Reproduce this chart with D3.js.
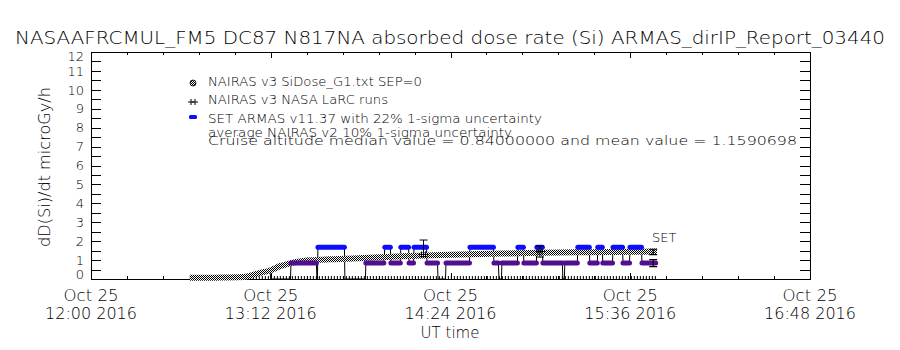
<!DOCTYPE html>
<html><head><meta charset="utf-8">
<script src="https://cdn.jsdelivr.net/npm/d3@7"></script>
<style>
body{margin:0;background:#fff}
svg{display:block}
text{font-family:"DejaVu Sans",sans-serif;font-weight:200;fill:#000}
</style>
</head><body><svg id="c" width="900" height="350"></svg>
<script>
// ---------- data (minutes after 2016-10-25 12:00 UT) ----------
const titleText = "NASAAFRCMUL_FM5 DC87 N817NA absorbed dose rate (Si) ARMAS_dirIP_Report_03440";
const yLabel = "dD(Si)/dt microGy/h";
const xLabel = "UT time";
const xTickMinutes = [0, 72, 144, 216, 288];
const xTickLabels = [["Oct 25","12:00 2016"],["Oct 25","13:12 2016"],["Oct 25","14:24 2016"],["Oct 25","15:36 2016"],["Oct 25","16:48 2016"]];
const yTickValues = [0,1,2,3,4,5,6,7,8,9,10,11,12];
const legendLabels = ["NAIRAS v3 SiDose_G1.txt SEP=0","NAIRAS v3 NASA LaRC runs","SET ARMAS v11.37 with 22% 1-sigma uncertainty","average NAIRAS v2 10% 1-sigma uncertainty","Cruise altitude median value = 0.84000000 and mean value = 1.1590698"];

// NAIRAS v3 SiDose (dense symbols)
const nairasT = [39.6, 50, 60.9, 64.5, 68, 71.7, 75.7, 79.7, 84.9, 90.5, 95.7, 111.7, 125, 139.8, 160, 179.8, 200, 226.7];
const nairasV = [0.06, 0.07, 0.1, 0.2, 0.33, 0.45, 0.68, 0.83, 0.95, 1.0, 1.04, 1.12, 1.2, 1.27, 1.33, 1.39, 1.42, 1.45];
// SEP contribution (=0)
const sepT = [39.6, 226.7];
const sepV = [0, 0];

// SET ARMAS runs: start, end, value
const armasStart = [71.7, 72.0, 80.1, 90.5, 90.9, 101.7, 110.1, 117.7, 120.1, 124.1, 127.4, 129.4, 134.6, 139.0, 142.2, 151.8, 161.4, 163.4, 164.6, 171.0, 173.4, 178.6, 181.0, 189.0, 189.8, 195.0, 199.8, 203.0, 205.0, 209.1, 213.1, 215.9, 220.7];
const armasEnd   = [71.7, 79.9, 90.3, 90.7, 101.5, 109.9, 117.3, 119.9, 123.9, 127.2, 129.2, 134.4, 138.8, 142.0, 151.6, 161.2, 163.2, 164.4, 170.8, 173.2, 178.4, 180.8, 188.8, 189.6, 194.8, 199.6, 202.8, 204.8, 208.9, 212.9, 215.7, 220.5, 226.2];
const armasV     = [0.45, 0, 0.84, 0, 1.68, 0, 0.84, 1.68, 0.84, 1.68, 0.84, 1.68, 0.84, 0, 0.84, 1.68, 0.84, 0, 0.84, 1.68, 0.84, 1.68, 0.84, 0, 0.84, 1.68, 0.84, 1.68, 0.84, 1.68, 0.84, 1.68, 0.84];

// NAIRAS v3 NASA LaRC runs with error bars
const larcT = [133.2, 179.8];
const larcV = [1.3, 1.45];
const larcLo = [1.18, 1.16];
const larcHi = [2.06, 1.74];

// summary values at end of flight
const summaryT = 225.2;
const nairasAvg = 1.43, nairasAvgErr = 0.10;
const armasMedian = 0.84, armasErr = 0.22;

// ---------- drawing ----------
const svg = d3.select("#c");
const L = 91, R = 810, T = 52, B = 279;
const x = d3.scaleLinear().domain([0, 288]).range([L, R]);
const y = d3.scaleLinear().domain([0, 12]).range([B, T]);
const BLUE = "#0c0cff", PURPLE = "#520e8e";

const defs = svg.append("defs");
const pat = defs.append("pattern").attr("id","chk").attr("patternUnits","userSpaceOnUse").attr("width",2).attr("height",2);
pat.append("rect").attr("width",2).attr("height",2).attr("fill","#fff");
pat.append("rect").attr("x",0).attr("y",0).attr("width",1).attr("height",1).attr("fill","#000");
pat.append("rect").attr("x",1).attr("y",1).attr("width",1).attr("height",1).attr("fill","#000");

// title
svg.append("text").attr("x",15).attr("y",44).attr("font-size",17)
  .attr("textLength",870).attr("lengthAdjust","spacingAndGlyphs").text(titleText);

// axes
const g = svg.append("g").attr("shape-rendering","crispEdges");
const yMinor = d3.range(0.5, 12, 1);
const yLabShift = v => v === 0 ? -5 : (v === 12 ? 4 : 0);
g.append("g").attr("transform",`translate(${L},0)`)
  .call(d3.axisLeft(y).tickValues(yTickValues).tickSize(-10).tickPadding(7).tickFormat(d3.format("d")))
  .call(s=>s.select(".domain").remove())
  .call(s=>s.selectAll("text").attr("font-size",13).attr("font-family","DejaVu Sans").attr("font-weight",200)
    .attr("fill","#000").attr("y",d=>yLabShift(d)));
g.append("g").attr("transform",`translate(${L},0)`)
  .call(d3.axisLeft(y).tickValues(yMinor).tickSize(-10).tickFormat(""))
  .call(s=>s.select(".domain").remove());
g.append("g").attr("transform",`translate(${R},0)`)
  .call(d3.axisRight(y).tickValues(yTickValues.concat(yMinor)).tickSize(-10).tickFormat(""))
  .call(s=>s.select(".domain").remove());
const xMinor = d3.range(14.4, 288, 14.4).filter(v=>Math.abs(v/72-Math.round(v/72))>0.01);
[[B, d3.axisBottom], [T, d3.axisTop]].forEach(([yy, ax])=>{
  g.append("g").attr("transform",`translate(0,${yy})`)
    .call(ax(x).tickValues(xTickMinutes).tickSize(-6).tickFormat(""))
    .call(s=>s.select(".domain").remove());
  g.append("g").attr("transform",`translate(0,${yy})`)
    .call(ax(x).tickValues(xMinor).tickSize(-3).tickFormat(""))
    .call(s=>s.select(".domain").remove());
});
g.selectAll(".tick line").attr("stroke","#000");
g.append("rect").attr("x",L+0.5).attr("y",T+0.5).attr("width",R-L).attr("height",B-T)
  .attr("fill","none").attr("stroke","#000");

// x tick labels
const xl = svg.append("g");
xTickMinutes.forEach((m,i)=>{
  xl.append("text").attr("x",x(m)).attr("y",301).attr("text-anchor","middle").attr("font-size",15)
    .attr("textLength",55).attr("lengthAdjust","spacingAndGlyphs").text(xTickLabels[i][0]);
  xl.append("text").attr("x",x(m)).attr("y",319).attr("text-anchor","middle").attr("font-size",15)
    .attr("textLength",92).attr("lengthAdjust","spacingAndGlyphs").text(xTickLabels[i][1]);
});
svg.append("text").attr("x",450).attr("y",338).attr("text-anchor","middle").attr("font-size",15).text(xLabel);
svg.append("text").attr("transform","translate(50,167) rotate(-90)").attr("text-anchor","middle")
  .attr("font-size",15).attr("textLength",160).attr("lengthAdjust","spacingAndGlyphs").text(yLabel);

// legend
const lg = svg.append("g");
const legY = [86, 104, 123, 137, 145];
const legLen = [214, 180, 334, 304, 589];
legendLabels.forEach((t,i)=>{
  lg.append("text").attr("x",208).attr("y",legY[i]).attr("font-size",13)
    .attr("textLength",legLen[i]).attr("lengthAdjust","spacingAndGlyphs").text(t);
});
// legend symbols
lg.append("circle").attr("cx",193).attr("cy",83).attr("r",3).attr("fill","url(#chk)").attr("stroke","#000").attr("stroke-width",0.8);
[[191,102],[195,102]].forEach(([cx,cy])=>{
  lg.append("path").attr("d",`M${cx-3},${cy}H${cx+3}M${cx},${cy-3}V${cy+3}`).attr("stroke","#000").attr("stroke-width",1);
});
lg.append("rect").attr("x",189).attr("y",115).attr("width",8).attr("height",4).attr("rx",1.5).attr("fill",BLUE);

const plot = svg.append("g");
// SEP=0 marks along zero
plot.append("path").attr("d", d3.line().x((d,i)=>x(sepT[i])).y(d=>y(d)-1.5)(sepV))
  .attr("stroke","#000").attr("stroke-width",3).attr("stroke-dasharray","1,2").attr("fill","none");

// ARMAS connecting line
const armasPts = [];
armasV.forEach((v,i)=>{ armasPts.push([armasStart[i],v]); armasPts.push([armasEnd[i],v]); });
plot.append("path").attr("d", d3.line().x(d=>x(d[0])).y(d=>y(d[1]))(armasPts))
  .attr("stroke","#000").attr("stroke-width",1).attr("fill","none");

// NAIRAS v3 dense symbols as a thick checkered band
plot.append("path").attr("d", d3.line().x((d,i)=>x(nairasT[i])).y(d=>y(d)).curve(d3.curveMonotoneX)(nairasV))
  .attr("stroke","url(#chk)").attr("stroke-width",6).attr("fill","none");

// ARMAS colored symbols (dose levels at or above the cruise median)
armasV.forEach((v,i)=>{
  if (v < 0.8) return;
  plot.append("line").attr("x1",x(armasStart[i])).attr("x2",x(armasEnd[i]))
    .attr("y1",y(v)).attr("y2",y(v)).attr("stroke", v > 1.2 ? BLUE : PURPLE)
    .attr("stroke-width",5).attr("stroke-linecap","round");
});

// LaRC runs with error bars
larcT.forEach((t,i)=>{
  const cx = x(t);
  plot.append("path").attr("d",`M${cx},${y(larcLo[i])}V${y(larcHi[i])}M${cx-4},${y(larcHi[i])}H${cx+4}M${cx-4},${y(larcLo[i])}H${cx+4}`)
    .attr("stroke","#000").attr("fill","none");
  [-2,2].forEach(o=>plot.append("path").attr("d",`M${cx+o-3},${y(larcV[i])}H${cx+o+3}M${cx+o},${y(larcV[i])-3}V${y(larcV[i])+3}`).attr("stroke","#000"));
});

// summary error bars and SET label
function errbar(t, v, frac, col){
  const cx = x(t), lo = y(v*(1-frac)), hi = y(v*(1+frac));
  plot.append("path").attr("d",`M${cx},${lo}V${hi}M${cx-4},${hi}H${cx+4}M${cx-4},${lo}H${cx+4}`)
    .attr("stroke",col).attr("stroke-width",1.2).attr("fill","none");
}
errbar(summaryT, nairasAvg, nairasAvgErr, "#000");
errbar(summaryT, armasMedian, armasErr, "#000");
svg.append("text").attr("x",652).attr("y",242).attr("font-size",13).text("SET");
</script></body></html>
